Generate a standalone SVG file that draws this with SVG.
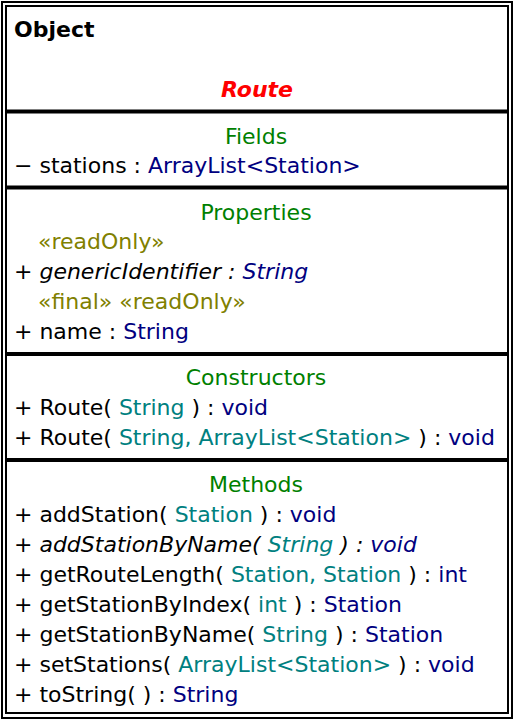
<svg xmlns="http://www.w3.org/2000/svg" width="515" height="722" viewBox="0 0 515 722">
<style>
text{font-family:"DejaVu Sans","Liberation Sans",sans-serif;font-size:22px;fill:#000}
.h{text-anchor:middle;fill:#008000}
.st{fill:#808000}
.ty{fill:#000080}
.pa{fill:#008080}
.it{font-style:italic}
.frame{fill:none;stroke:#000;stroke-width:2}
.sep{stroke:#000;stroke-width:4}
</style>
<rect width="515" height="722" fill="#fff"/>
<g id="connectors"/>
<g id="Route">
<rect class="frame" x="2" y="2" width="510" height="716"/>
<rect class="frame" x="6" y="6" width="502" height="707"/>
<line class="sep" x1="6" y1="111.5" x2="508" y2="111.5"/>
<line class="sep" x1="6" y1="187.5" x2="508" y2="187.5"/>
<line class="sep" x1="6" y1="354" x2="508" y2="354"/>
<line class="sep" x1="6" y1="460" x2="508" y2="460"/>
<text x="14" y="37" font-weight="bold">Object</text>
<text x="257" y="97" text-anchor="middle" font-weight="bold" font-style="italic" style="fill:#ff0000">Route</text>
<text class="h" x="256" y="144">Fields</text>
<text x="14" y="173">− stations : <tspan class="ty">ArrayList&lt;Station&gt;</tspan></text>
<text class="h" x="256" y="220">Properties</text>
<text class="st" x="38" y="249">«readOnly»</text>
<text class="it" x="14" y="279">+ genericIdentifier : <tspan class="ty">String</tspan></text>
<text class="st" x="38" y="309">«final» «readOnly»</text>
<text x="14" y="339">+ name : <tspan class="ty">String</tspan></text>
<text class="h" x="256" y="385">Constructors</text>
<text x="14" y="415">+ Route( <tspan class="pa">String</tspan> ) : <tspan class="ty">void</tspan></text>
<text x="14" y="445">+ Route( <tspan class="pa">String, ArrayList&lt;Station&gt;</tspan> ) : <tspan class="ty">void</tspan></text>
<text class="h" x="256" y="492">Methods</text>
<text x="14" y="522">+ addStation( <tspan class="pa">Station</tspan> ) : <tspan class="ty">void</tspan></text>
<text class="it" x="14" y="552">+ addStationByName( <tspan class="pa">String</tspan> ) : <tspan class="ty">void</tspan></text>
<text x="14" y="582">+ getRouteLength( <tspan class="pa">Station, Station</tspan> ) : <tspan class="ty">int</tspan></text>
<text x="14" y="612">+ getStationByIndex( <tspan class="pa">int</tspan> ) : <tspan class="ty">Station</tspan></text>
<text x="14" y="642">+ getStationByName( <tspan class="pa">String</tspan> ) : <tspan class="ty">Station</tspan></text>
<text x="14" y="672">+ setStations( <tspan class="pa">ArrayList&lt;Station&gt;</tspan> ) : <tspan class="ty">void</tspan></text>
<text x="14" y="702">+ toString( ) : <tspan class="ty">String</tspan></text>
</g>
</svg>
